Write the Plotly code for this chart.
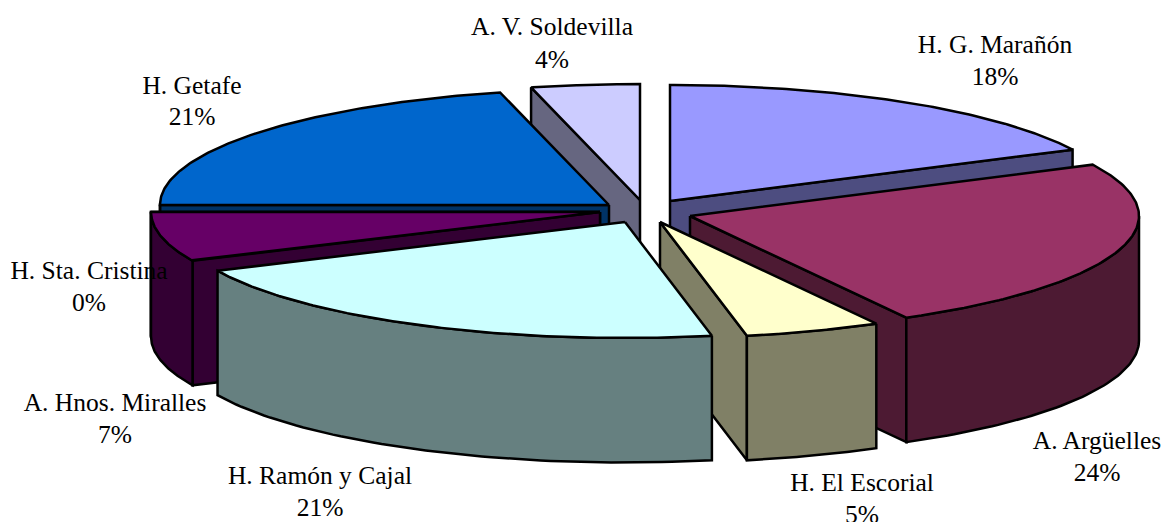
import numpy as np
import plotly.graph_objects as go

# slices clockwise from 12 o'clock
hospitals = ["H. G. Marañón", "A. Argüelles", "H. El Escorial", "H. Ramón y Cajal",
             "A. Hnos. Miralles", "H. Sta. Cristina", "H. Getafe", "A. V. Soldevilla"]
shares = [17.7, 24.3, 4.9, 21.2, 6.9, 0.0, 21.1, 3.9]

top_colors = ["#9999FF", "#993366", "#FFFFCC", "#CCFFFF", "#660066", "#FF8080", "#0066CC", "#CCCCFF"]
side_colors = ["#4D4D80", "#4D1A33", "#808066", "#668080", "#330033", "#804040", "#003366", "#666680"]

# explosion of each slice away from the pie centre, in pixels
pull_x = [30, 50, 20, -15, -40, -40, -31, 0]
pull_y = [-9, 6, 12, 12, 2, 2, -5, -10]

# label rows, in pixels
label_x = [995, 1097, 862, 320, 115, 89, 192, 552]
name_y = [47, 443, 485, 478, 405, 273, 88, 29]
pct_y = [79, 475, 517, 510, 437, 305, 119, 62]

# back to front
draw_order = [7, 6, 0, 5, 4, 1, 2, 3]

CX, CY = 640, 210
RX, RY = 449, 116
DEPTH = 124.5
LINE = dict(color="black", width=2.5)
FONT = dict(family="Liberation Serif", size=25.5, color="black")


def rim(angles, ox, oy):
    a = np.radians(angles)
    return ox + RX * np.sin(a), oy - RY * np.cos(a)


def add_face(fig, xs, ys, color):
    fig.add_trace(go.Scatter(x=list(xs), y=list(ys), mode="lines", fill="toself",
                             fillcolor=color, line=LINE, hoverinfo="skip", showlegend=False))


fracs = np.array(shares) / sum(shares) * 360
ends = np.cumsum(fracs)
starts = ends - fracs

fig = go.Figure()

for i in draw_order:
    ox, oy = CX + pull_x[i], CY + pull_y[i]

    # flat sides, only the ones turned to the viewer
    flat = []
    if 180 <= starts[i] < 360:
        flat.append(starts[i])
    if 0 < ends[i] <= 180:
        flat.append(ends[i])
    for ang in flat:
        tx, ty = rim(np.array([ang]), ox, oy)
        add_face(fig, [ox, tx[0], tx[0], ox, ox], [oy, ty[0], ty[0] + DEPTH, oy + DEPTH, oy], side_colors[i])

    # outer wall, only the part that faces the viewer
    lo, hi = max(starts[i], 90), min(ends[i], 270)
    if lo <= hi:
        ax, ay = rim(np.linspace(lo, hi, 60), ox, oy)
        add_face(fig, np.r_[ax, ax[::-1], ax[0]], np.r_[ay, ay[::-1] + DEPTH, ay[0]], side_colors[i])

    # top
    ax, ay = rim(np.linspace(starts[i], ends[i], 120), ox, oy)
    add_face(fig, np.r_[ox, ax, ox], np.r_[oy, ay, oy], top_colors[i])

percents = [f"{round(s)}%" for s in shares]
for ys, texts in ((name_y, hospitals), (pct_y, percents)):
    fig.add_trace(go.Scatter(x=label_x, y=ys, mode="text", text=texts, textposition="middle center",
                             textfont=FONT, cliponaxis=False, hoverinfo="skip", showlegend=False))

fig.update_layout(
    width=1162, height=522, autosize=False,
    margin=dict(l=0, r=0, t=0, b=0),
    paper_bgcolor="white", plot_bgcolor="white",
    xaxis=dict(range=[0, 1162], visible=False),
    yaxis=dict(range=[522, 0], visible=False),
)

fig.write_html("out.html", config={"displayModeBar": False},
               post_script="document.body.style.margin='0';")
